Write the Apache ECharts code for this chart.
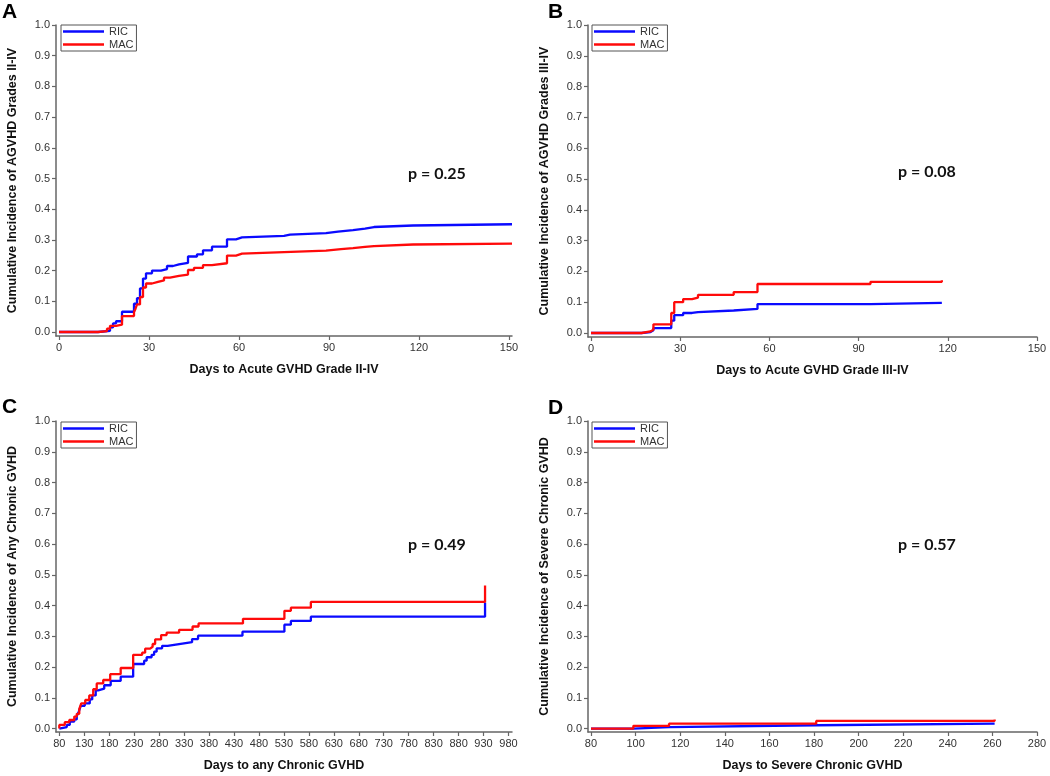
<!DOCTYPE html>
<html>
<head>
<meta charset="utf-8">
<script src="https://cdn.jsdelivr.net/npm/echarts@6/dist/echarts.min.js"></script>
<style>
  html, body { margin: 0; padding: 0; background: #fff; }
  #chart { width: 1050px; height: 776px; }
</style>
</head>
<body>
<div id="chart"></div>
<script>
// ---------- DATA ----------
const seriesNames = ['RIC', 'MAC'];
const yTicks = [0, 0.1, 0.2, 0.3, 0.4, 0.5, 0.6, 0.7, 0.8, 0.9, 1.0];
const xTicksA = [0, 30, 60, 90, 120, 150];
const xTicksB = [0, 30, 60, 90, 120, 150];
const xTicksC = [80, 130, 180, 230, 280, 330, 380, 430, 480, 530, 580, 630, 680, 730, 780, 830, 880, 930, 980];
const xTicksD = [80, 100, 120, 140, 160, 180, 200, 220, 240, 260, 280];

const panelLetters = ['A', 'B', 'C', 'D'];
const pValues = ['p = 0.25', 'p = 0.08', 'p = 0.49', 'p = 0.57'];
const xTitles = ['Days to Acute GVHD Grade II-IV', 'Days to Acute GVHD Grade III-IV', 'Days to any Chronic GVHD', 'Days to Severe Chronic GVHD'];
const yTitles = ['Cumulative Incidence of AGVHD Grades II-IV', 'Cumulative Incidence of AGVHD Grades III-IV', 'Cumulative Incidence of Any Chronic GVHD', 'Cumulative Incidence of Severe Chronic GVHD'];

// Panel A
const aDaysRIC = [0, 13, 17, 18, 19, 21, 25, 26, 27, 28, 29, 31, 34, 36, 38, 40, 43, 46, 48, 51, 56, 59, 61, 75, 77, 89, 93, 98, 102, 105, 118, 151];
const aCIRIC   = [0, 0.004, 0.015, 0.028, 0.035, 0.066, 0.092, 0.11, 0.142, 0.174, 0.191, 0.2, 0.205, 0.215, 0.22, 0.225, 0.246, 0.253, 0.266, 0.278, 0.302, 0.308, 0.313, 0.317, 0.322, 0.327, 0.332, 0.337, 0.342, 0.347, 0.351, 0.351];
const aDaysMAC = [0, 13, 16, 17, 19, 21, 25, 25.5, 26, 27, 28, 29, 31, 33, 35, 37, 40, 43, 45, 48, 51, 56, 59, 61, 75, 89, 94, 98, 102, 105, 118, 151];
const aCIMAC   = [0, 0.003, 0.011, 0.02, 0.024, 0.052, 0.065, 0.076, 0.09, 0.114, 0.145, 0.158, 0.163, 0.168, 0.177, 0.183, 0.187, 0.202, 0.209, 0.218, 0.224, 0.249, 0.255, 0.26, 0.265, 0.27, 0.273, 0.277, 0.28, 0.285, 0.288, 0.288];

// Panel B
const bDaysRIC = [0, 17, 20, 21, 27, 28, 31, 34, 36, 48, 56, 94, 118];
const bCIRIC   = [0, 0.003, 0.009, 0.016, 0.04, 0.058, 0.065, 0.068, 0.073, 0.078, 0.094, 0.098, 0.098];
const bDaysMAC = [0, 17, 20, 21, 27, 28, 31, 34, 36, 48, 56, 94, 118, 118];
const bCIMAC   = [0, 0.005, 0.011, 0.028, 0.065, 0.1, 0.11, 0.115, 0.124, 0.133, 0.159, 0.166, 0.166, 0.171];

// Panel C
const cDaysRIC = [80, 80, 95, 101, 110, 115, 119, 123, 131, 141, 146, 153, 158, 170, 183, 203, 228, 250, 255, 265, 270, 275, 286, 297, 320, 346, 358, 447, 531, 544, 584, 933, 933];
const cCIRIC   = [0, 0.005, 0.012, 0.023, 0.03, 0.041, 0.055, 0.074, 0.082, 0.095, 0.108, 0.124, 0.13, 0.141, 0.155, 0.169, 0.21, 0.221, 0.232, 0.24, 0.25, 0.261, 0.269, 0.275, 0.281, 0.291, 0.302, 0.315, 0.338, 0.35, 0.364, 0.364, 0.41];
const cDaysMAC = [80, 80, 91, 100, 110, 115, 120, 124, 132, 140, 148, 155, 168, 182, 203, 228, 246, 252, 262, 267, 272, 284, 295, 320, 347, 359, 448, 531, 544, 584, 933, 933];
const cCIMAC   = [0, 0.012, 0.021, 0.028, 0.039, 0.048, 0.063, 0.082, 0.093, 0.108, 0.128, 0.147, 0.158, 0.177, 0.197, 0.24, 0.247, 0.26, 0.266, 0.275, 0.29, 0.304, 0.312, 0.321, 0.332, 0.342, 0.357, 0.383, 0.393, 0.412, 0.412, 0.465];

// Panel D
const dDaysRIC = [80, 99, 115, 181, 261];
const dCIRIC   = [0, 0.005, 0.011, 0.016, 0.016];
const dDaysMAC = [80, 99, 115, 181, 261, 261];
const dCIMAC   = [0, 0.009, 0.016, 0.025, 0.025, 0.03];

// ---------- LAYOUT / STYLE ----------
const colors = { RIC: '#0a0aff', MAC: '#ff0a0a' };
const axisGray = '#666666';
const labelGray = '#333333';

const grids = [
  { left: 56,  top: 25,  width: 456, height: 311 },
  { left: 588, top: 25,  width: 449, height: 312 },
  { left: 56,  top: 421, width: 456, height: 311 },
  { left: 588, top: 421, width: 449, height: 311 }
];
const xRanges = [[-1, 151], [-1, 150], [73.4, 987], [78.66, 280]];
const yMins = [-0.013, -0.013, -0.011, -0.011];
const xTickSets = [xTicksA, xTicksB, xTicksC, xTicksD];

const zip = (xs, ys) => xs.map((x, i) => [x, ys[i]]);
const panelData = [
  [zip(aDaysRIC, aCIRIC), zip(aDaysMAC, aCIMAC)],
  [zip(bDaysRIC, bCIRIC), zip(bDaysMAC, bCIMAC)],
  [zip(cDaysRIC, cCIRIC), zip(cDaysMAC, cCIMAC)],
  [zip(dDaysRIC, dCIRIC), zip(dDaysMAC, dCIMAC)]
];

const xAxes = [], yAxes = [], series = [], legends = [], graphics = [];
const letterPos = [[2, 12], [548, 12], [2, 407], [548, 408]];
const pPos = [[408, 174], [898, 172], [408, 545], [898, 545]];
const legendPos = [[61, 25], [592, 25], [61, 422], [592, 422]];

for (let i = 0; i < 4; i++) {
  xAxes.push({
    type: 'value', gridIndex: i, min: xRanges[i][0], max: xRanges[i][1],
    name: xTitles[i], nameLocation: 'middle', nameGap: 27,
    nameTextStyle: { fontFamily: 'Liberation Sans, Arial', fontWeight: 'bold', fontSize: 12.5, color: '#111' },
    axisLine: { show: true, onZero: false, lineStyle: { color: axisGray, width: 1.5 } },
    axisTick: { show: true, length: 4, lineStyle: { color: axisGray, width: 1.2 }, customValues: xTickSets[i] },
    axisLabel: { fontFamily: 'Liberation Sans, Arial', fontSize: 11, color: labelGray, margin: 6, customValues: xTickSets[i], formatter: v => String(v) },
    splitLine: { show: false }
  });
  yAxes.push({
    type: 'value', gridIndex: i, min: yMins[i], max: 1.0,
    name: yTitles[i], nameLocation: 'middle', nameGap: 37, nameRotate: 90,
    nameTextStyle: { fontFamily: 'Liberation Sans, Arial', fontWeight: 'bold', fontSize: 12.5, color: '#111' },
    axisLine: { show: true, onZero: false, lineStyle: { color: axisGray, width: 1.5 } },
    axisTick: { show: true, length: 4, lineStyle: { color: axisGray, width: 1.2 }, customValues: yTicks },
    axisLabel: { fontFamily: 'Liberation Sans, Arial', fontSize: 11, color: labelGray, margin: 6, customValues: yTicks, formatter: v => v.toFixed(1) },
    splitLine: { show: false }
  });
  seriesNames.forEach((nm, k) => {
    series.push({
      type: 'line', name: nm, xAxisIndex: i, yAxisIndex: i, step: 'end',
      data: panelData[i][k], showSymbol: false, symbol: 'none',
      lineStyle: { color: colors[nm], width: 2.3 }, itemStyle: { color: colors[nm] },
      animation: false, silent: true
    });
  });
  legends.push({
    left: legendPos[i][0], top: legendPos[i][1], orient: 'vertical',
    data: seriesNames, icon: 'rect', itemWidth: 41, itemHeight: 2.5, itemGap: 2,
    padding: [1, 3, 1, 2], borderColor: '#555', borderWidth: 1, selectedMode: false,
    textStyle: { fontFamily: 'Liberation Sans, Arial', fontSize: 11, color: labelGray, padding: [1, 0, 1, 0] }
  });
  graphics.push({
    type: 'text', x: letterPos[i][0], y: letterPos[i][1],
    style: { text: panelLetters[i], font: 'bold 21px "Liberation Sans", Arial', fill: '#000', textVerticalAlign: 'middle', verticalAlign: 'middle' }
  });
  graphics.push({
    type: 'text', x: pPos[i][0], y: pPos[i][1],
    style: { text: pValues[i], font: 'bold 16px Lato', fill: '#111', textVerticalAlign: 'middle', verticalAlign: 'middle' }
  });
}

const chart = echarts.init(document.getElementById('chart'), null, { renderer: 'canvas' });
chart.setOption({
  animation: false,
  backgroundColor: '#ffffff',
  grid: grids,
  xAxis: xAxes,
  yAxis: yAxes,
  legend: legends,
  series: series,
  graphic: graphics
});
</script>
</body>
</html>
